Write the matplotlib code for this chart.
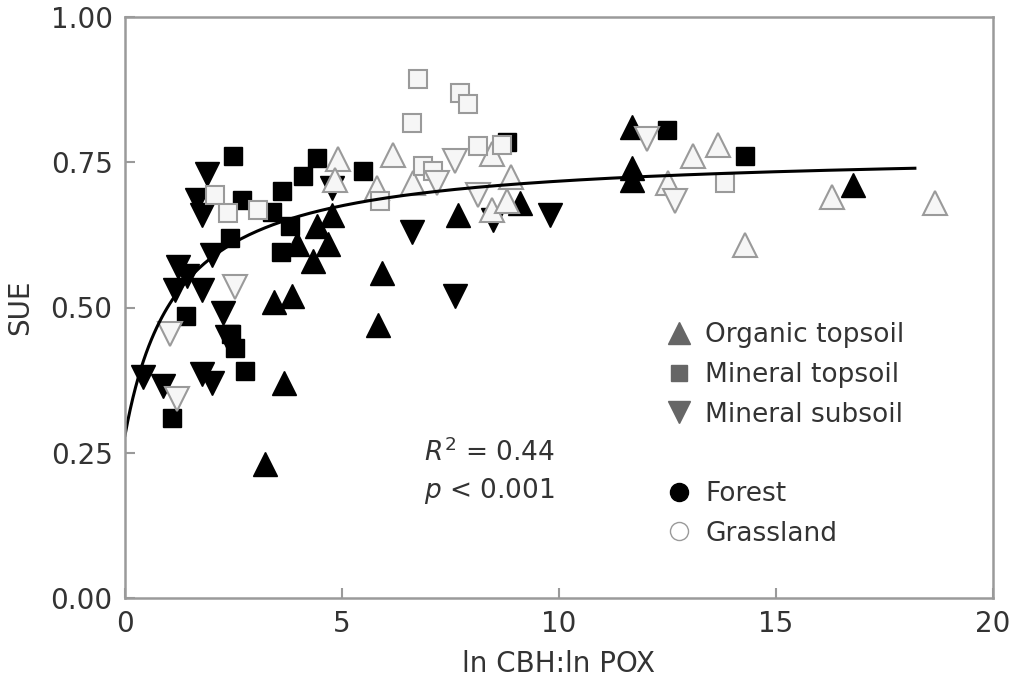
import numpy as np
import matplotlib
matplotlib.use("Agg")
import matplotlib.pyplot as plt
from matplotlib.lines import Line2D

plt.rcParams["font.family"] = ["DejaVu Sans"]

# Forest (black filled)
forest_org_x = [3.23, 3.66, 3.43, 3.85, 3.96, 4.33, 4.68, 4.77, 4.42, 5.92, 5.83, 7.67, 9.10, 11.68, 11.68, 11.68, 16.77]
forest_org_y = [0.23, 0.37, 0.51, 0.52, 0.61, 0.58, 0.61, 0.66, 0.64, 0.56, 0.47, 0.66, 0.68, 0.81, 0.74, 0.72, 0.71]

forest_mtop_x = [2.49, 2.70, 3.39, 2.42, 3.62, 3.60, 4.10, 4.42, 3.80, 5.48, 8.80, 12.49, 14.29, 1.41, 2.44, 2.53, 2.76, 1.08]
forest_mtop_y = [0.76, 0.685, 0.665, 0.62, 0.70, 0.595, 0.727, 0.758, 0.64, 0.735, 0.785, 0.805, 0.76, 0.485, 0.455, 0.43, 0.39, 0.31]

forest_msub_x = [1.89, 1.66, 1.77, 2.00, 1.22, 1.43, 1.15, 1.77, 2.26, 2.35, 0.41, 0.88, 1.77, 2.00, 4.77, 6.61, 7.60, 9.79, 8.48]
forest_msub_y = [0.73, 0.685, 0.66, 0.59, 0.57, 0.555, 0.53, 0.53, 0.49, 0.45, 0.38, 0.365, 0.385, 0.37, 0.705, 0.63, 0.52, 0.66, 0.65]

# Grassland (open)
grass_org_x = [4.91, 4.85, 6.18, 5.80, 6.64, 8.46, 8.90, 8.46, 8.80, 13.09, 13.66, 12.51, 16.29, 18.66, 14.29]
grass_org_y = [0.755, 0.72, 0.763, 0.705, 0.715, 0.765, 0.725, 0.668, 0.683, 0.76, 0.78, 0.715, 0.69, 0.68, 0.607]

grass_mtop_x = [6.75, 7.72, 7.90, 6.61, 8.13, 8.69, 6.87, 7.10, 5.88, 2.07, 2.37, 3.06, 13.82]
grass_mtop_y = [0.893, 0.87, 0.85, 0.818, 0.778, 0.78, 0.744, 0.735, 0.683, 0.694, 0.663, 0.668, 0.715]

grass_msub_x = [2.53, 1.04, 1.20, 7.60, 7.19, 8.13, 12.03, 12.67]
grass_msub_y = [0.536, 0.455, 0.343, 0.753, 0.715, 0.694, 0.79, 0.683]

# hyperbolic fit: y = c + a*x/(b+x)
fit_a, fit_b, fit_c = 0.49, 1.2, 0.28
fit_xmax = 18.2

fig = plt.figure(figsize=(10.13, 6.85), dpi=100)
ax = fig.add_axes([125 / 1013, 1 - 598 / 685, 868 / 1013, 581 / 685])

black = dict(color="black", markeredgecolor="black", linestyle="none")
open_ = dict(color="#f6f6f6", markeredgecolor="#9a9a9a", markeredgewidth=1.5, linestyle="none")

ax.plot(forest_org_x, forest_org_y, "^", markersize=17, **black)
ax.plot(forest_mtop_x, forest_mtop_y, "s", markersize=12.5, **black)
ax.plot(forest_msub_x, forest_msub_y, "v", markersize=17, **black)
ax.plot(grass_org_x, grass_org_y, "^", markersize=17, **open_)
ax.plot(grass_mtop_x, grass_mtop_y, "s", markersize=12.5, **open_)
ax.plot(grass_msub_x, grass_msub_y, "v", markersize=17, **open_)

xf = np.linspace(0, fit_xmax, 300)
ax.plot(xf, fit_c + fit_a * xf / (fit_b + xf), color="black", lw=2.2)

fs = 20
tc = "#333333"
ax.set_xlim(0, 20)
ax.set_ylim(0, 1.0)
ax.set_xticks([0, 5, 10, 15, 20])
ax.set_yticks([0, 0.25, 0.5, 0.75, 1.0])
ax.set_yticklabels(["0.00", "0.25", "0.50", "0.75", "1.00"])
for s in ax.spines.values():
    s.set_color("#9a9a9a")
    s.set_linewidth(1.8)
ax.tick_params(direction="in", length=7, width=1.5, color="#9a9a9a",
               labelsize=fs, labelcolor=tc, pad=9)
ax.set_xlabel("ln CBH:ln POX", fontsize=fs, color=tc, labelpad=8)
ax.set_ylabel("SUE", fontsize=fs, color=tc, labelpad=12)

ax.text(6.9, 0.25, r"$R^2$ = 0.44", fontsize=19, color=tc, va="center")
ax.text(6.9, 0.185, r"$p$ < 0.001", fontsize=19, color=tc, va="center")

g = "#666666"
handles = [
    Line2D([], [], marker="^", color=g, linestyle="none", markersize=16),
    Line2D([], [], marker="s", color=g, linestyle="none", markersize=11),
    Line2D([], [], marker="v", color=g, linestyle="none", markersize=16),
    Line2D([], [], linestyle="none"),
    Line2D([], [], marker="o", color="black", linestyle="none", markersize=13),
    Line2D([], [], marker="o", color="white", markeredgecolor="#9a9a9a", linestyle="none", markersize=13),
]
labels = ["Organic topsoil", "Mineral topsoil", "Mineral subsoil", "", "Forest", "Grassland"]
leg = ax.legend(handles, labels, loc="upper left", bbox_to_anchor=(0.614, 0.493), frameon=False,
                fontsize=19, handlelength=0.8, handletextpad=0.6, labelspacing=0.52,
                borderaxespad=0.0)
for t in leg.get_texts():
    t.set_color(tc)

fig.savefig("out.png", dpi=100)
